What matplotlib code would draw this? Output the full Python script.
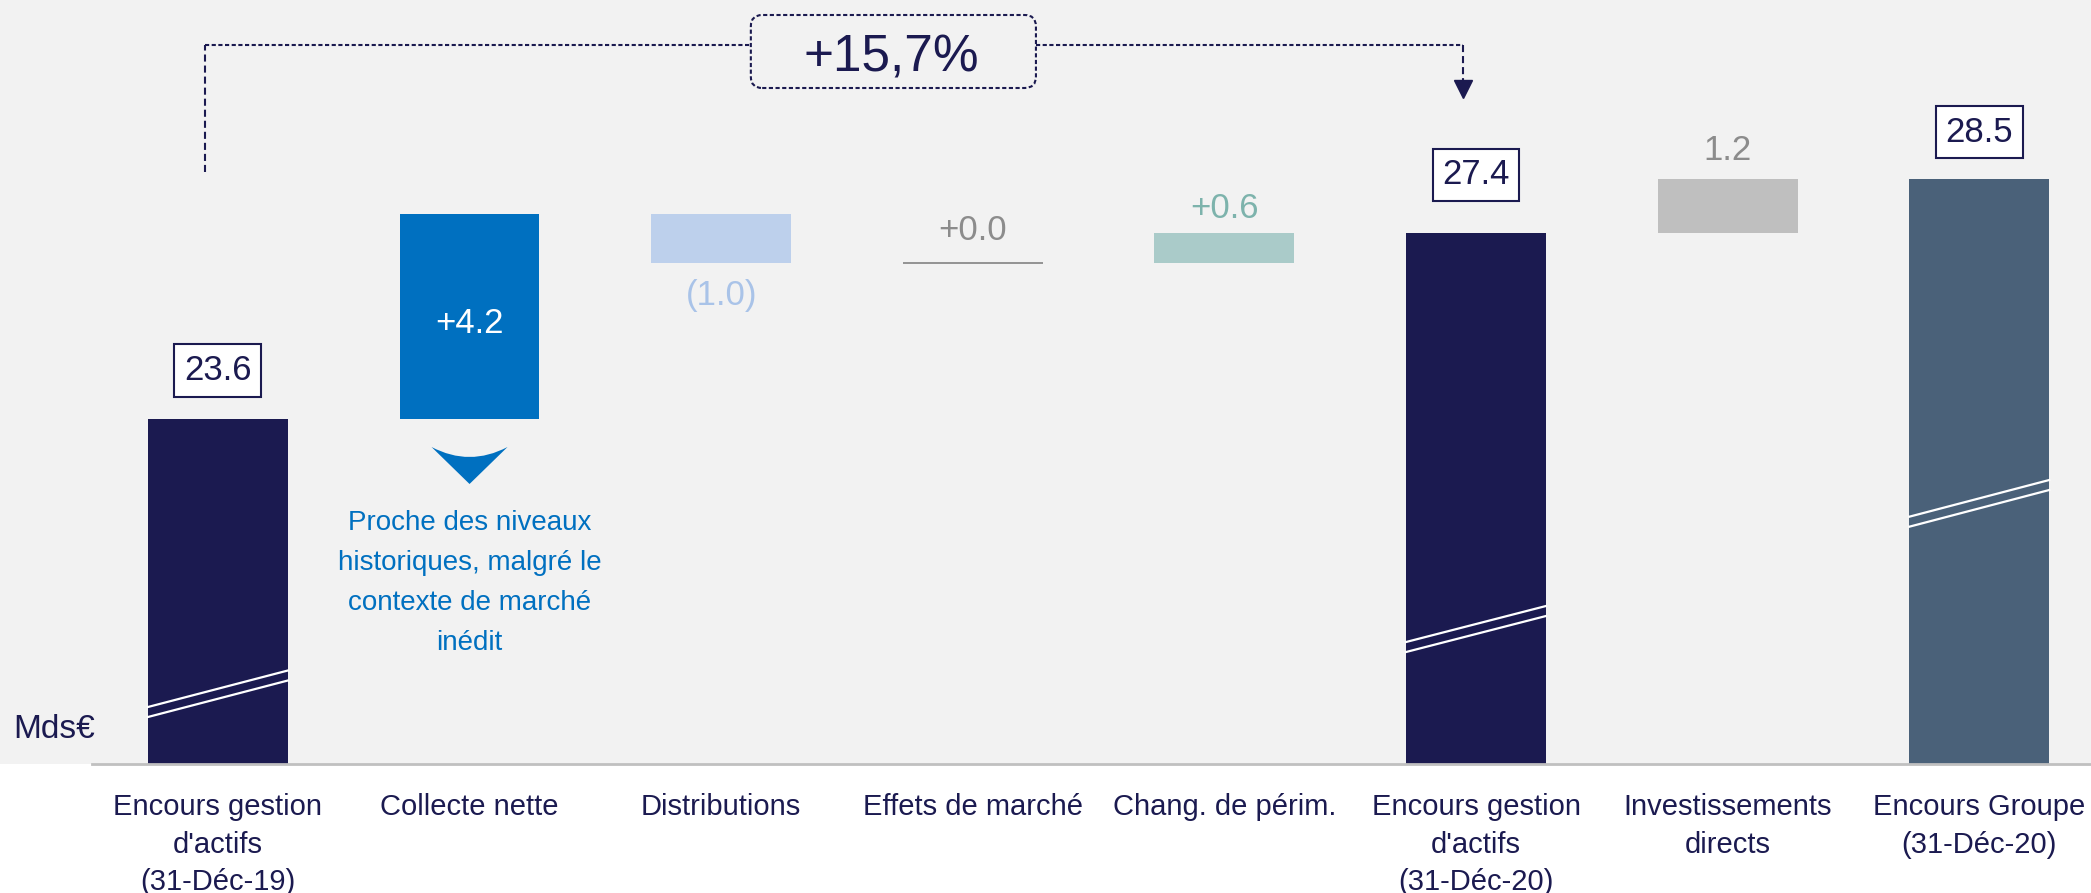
# Waterfall : encours sous gestion 2019 -> 2020
import matplotlib
matplotlib.use('Agg')
import matplotlib.pyplot as plt
from matplotlib.patches import FancyBboxPatch, PathPatch
from matplotlib.path import Path

plt.rcParams['font.family'] = ['Liberation Sans', 'DejaVu Sans']

# données
categories = ["Encours gestion\nd'actifs\n(31-Déc-19)", "Collecte nette", "Distributions",
              "Effets de marché", "Chang. de périm.", "Encours gestion\nd'actifs\n(31-Déc-20)",
              "Investissements\ndirects", "Encours Groupe\n(31-Déc-20)"]
values = [23.6, 4.2, -1.0, 0.0, 0.6, 27.4, 1.2, 28.5]
is_total = [True, False, False, False, False, True, False, True]
value_labels = ['23.6', '+4.2', '(1.0)', '+0.0', '+0.6', '27.4', '1.2', '28.5']
growth_label = '+15,7%'
note = "Proche des niveaux\nhistoriques, malgré le\ncontexte de marché\ninédit"

# styles
navy = '#1B1A50'
colors = ['#1B1A50', '#0070C0', '#BDD0EC', '#8C8C8C', '#AACBC9', '#1B1A50', '#BFBFBF', '#4A6179']
label_colors = [navy, 'white', '#A9C3E8', '#8C8C8C', '#7DB3AC', navy, '#8C8C8C', navy]
label_offsets = [35, -5, -24, 23, 18, 42, 21, 34]   # en points
breaks_px = {0: (712, 675.5), 5: (647, 611), 7: (521.7, 485)}   # position des coupures (pixels)

W_PX, H_PX, AX_H = 2091, 893, 764
fig = plt.figure(figsize=(W_PX / 100, H_PX / 100), dpi=100)
ax = fig.add_axes([0, 1 - AX_H / H_PX, 1, AX_H / H_PX])
ax.set_facecolor('#F2F2F2')
YMIN, YMAX = 16.545, 32.17
XMIN, XMAX = -0.866, 7.444
ax.set_xlim(XMIN, XMAX)
ax.set_ylim(YMIN, YMAX)
for s in ax.spines.values():
    s.set_visible(False)


def py(pix):
    # pixel (depuis le haut) -> valeur de l'axe y
    return YMAX - pix / AX_H * (YMAX - YMIN)


w = 0.556
level = 0
for i, v in enumerate(values):
    if is_total[i]:
        b, t = 0, v
        level = v
    else:
        end = level + v
        # arrondi : on raccroche au total suivant
        if i + 1 < len(values) and is_total[i + 1] and abs(end - values[i + 1]) < 0.15:
            end = values[i + 1]
        b, t = min(level, end), max(level, end)
        level = end
    if t - b > 0:
        ax.bar(i, t - b, bottom=b, width=w, color=colors[i], zorder=2)
    else:
        ax.hlines(b, i - w / 2, i + w / 2, color=colors[i], lw=1.3, zorder=2)

    if is_total[i]:
        ax.annotate(value_labels[i], (i, t), xytext=(0, label_offsets[i]), textcoords='offset points',
                    ha='center', va='center', fontsize=25, color=label_colors[i],
                    bbox=dict(boxstyle='square,pad=0.28', fc='white', ec=navy, lw=1.5))
    elif v > 0 and t - b > 2:
        ax.annotate(value_labels[i], (i, (b + t) / 2), xytext=(0, label_offsets[i]),
                    textcoords='offset points', ha='center', va='center', fontsize=25,
                    color=label_colors[i], zorder=3)
    elif v < 0:
        ax.annotate(value_labels[i], (i, b), xytext=(0, label_offsets[i]), textcoords='offset points',
                    ha='center', va='center', fontsize=25, color=label_colors[i])
    else:
        ax.annotate(value_labels[i], (i, t), xytext=(0, label_offsets[i]), textcoords='offset points',
                    ha='center', va='center', fontsize=25, color=label_colors[i])

# traits de coupure
for i, (pl, pr) in breaks_px.items():
    for d in (-5, 5):
        ax.plot([i - w / 2, i + w / 2], [py(pl + d), py(pr + d)], color='white', lw=1.6, zorder=3)

# axe
ax.axhline(YMIN, xmin=92 / W_PX, color='#C0C0C0', lw=2, clip_on=False, zorder=4)
ax.set_yticks([])
ax.set_xticks(range(len(categories)), categories)
ax.tick_params(axis='x', length=0, pad=21, labelsize=21, labelcolor=navy)
for t in ax.get_xticklabels():
    t.set_linespacing(1.43)

ax.text(13 / W_PX, 35 / AX_H, 'Mds€', transform=ax.transAxes, fontsize=24, color=navy,
        ha='left', va='center')

# commentaire collecte
ax.text(1, py(583), note, ha='center', va='center', fontsize=20, color='#0070C0', linespacing=1.69)
hw = 0.151
chev = Path([(1 - hw, py(447)), (1, py(467)), (1 + hw, py(447)), (1, py(484)), (1 - hw, py(447))],
            [Path.MOVETO, Path.CURVE3, Path.CURVE3, Path.LINETO, Path.CLOSEPOLY])
ax.add_patch(PathPatch(chev, fc='#0070C0', ec='none', zorder=3))

# accolade +15,7%
xl, xr, ytop = -0.05, 4.95, py(45)
box_x0, box_x1, box_y0, box_y1 = 2.118, 3.251, py(88), py(15)
short = (0, (2, 1.2))
long_ = (0, (3.4, 1.9))
ax.plot([xl, xl], [py(172), ytop], color=navy, lw=1.5, ls=long_)
ax.plot([xl, box_x0], [ytop, ytop], color=navy, lw=1.5, ls=short)
ax.plot([box_x1, xr], [ytop, ytop], color=navy, lw=1.5, ls=short)
ax.plot([xr, xr], [ytop, py(80)], color=navy, lw=1.5, ls=long_)
ax.plot(xr, py(88.5), marker='v', ms=13, color=navy, mec=navy)

sx = W_PX / (XMAX - XMIN)
sy = AX_H / (YMAX - YMIN)
box = FancyBboxPatch((box_x0, box_y0), box_x1 - box_x0, box_y1 - box_y0,
                     boxstyle='round,pad=0,rounding_size=0.045', mutation_aspect=sx / sy,
                     fc='#F2F2F2', ec=navy, lw=1.5, ls=short, zorder=3)
ax.add_patch(box)
ax.text(2.675, py(72), growth_label, ha='center', va='baseline', fontsize=37, color=navy, zorder=4)

fig.savefig('out.png', dpi=100, facecolor='white')
